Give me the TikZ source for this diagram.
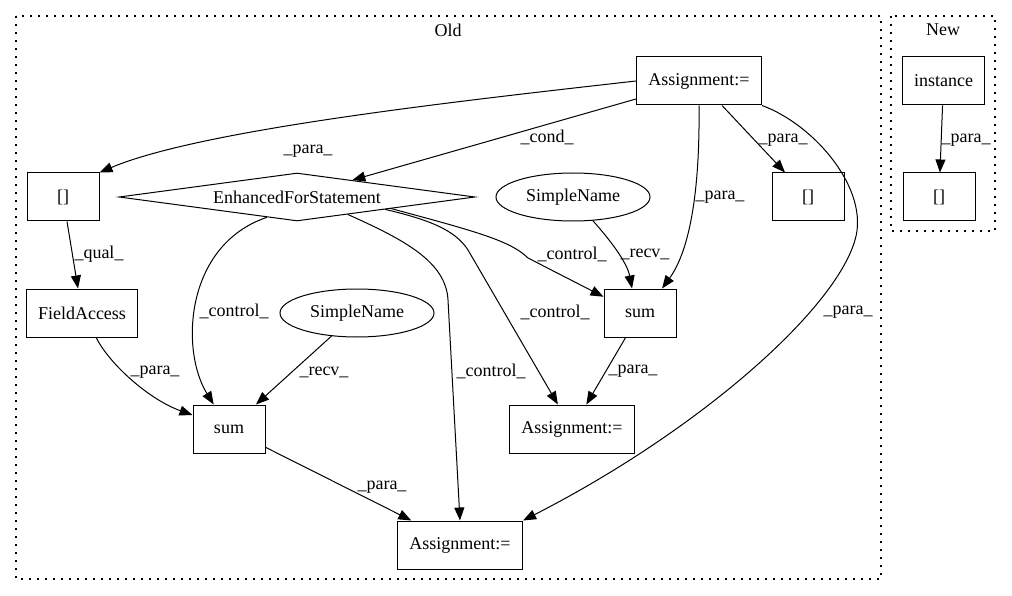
\documentclass[tikz,border=0pt]{standalone}
\usepackage{fontspec}
\setmainfont{Liberation Serif}
\usetikzlibrary{arrows.meta,shapes.geometric}

\begin{document}
\begin{tikzpicture}[x=1pt, y=-1pt, line width=1pt,
    font=\fontsize{18}{20}\selectfont,
    box/.style={draw, rectangle, minimum width=72pt, minimum height=48pt, inner xsep=12pt, inner ysep=0pt},
    oval/.style={draw, ellipse, minimum width=154pt, minimum height=48pt, inner sep=0pt},
    cond/.style={draw, diamond, aspect=7.4, minimum width=356pt, minimum height=48pt, inner sep=0pt},
    cluster/.style={line width=1.3pt, dash pattern=on 1.6pt off 6.4pt},
    edge/.style={-{Triangle[length=13pt,width=10pt]}},
    lbl/.style={inner sep=0pt}]
            \useasboundingbox (0,0) rectangle (1012,596);

            % clusters
            \draw[cluster] (16,16) rectangle (881,579);
            \node[lbl] (old) at (448,30) {Old};
            \draw[cluster] (891,16) rectangle (995,231);
            \node[lbl] (new) at (943,30) {New};

            % old nodes
            \node[box] (asgtop) at (699,81) {Assignment:=};
            \node[box] (idxleft) at (63,197) {[]};
            \node[cond] (efs) at (297,197) {EnhancedForStatement};
            \node[oval] (nameright) at (573,197) {SimpleName};
            \node[box] (idxright) at (808,197) {[]};
            \node[box] (field) at (82,313) {FieldAccess};
            \node[oval] (nameleft) at (357,313) {SimpleName};
            \node[box] (sumright) at (640,313) {sum};
            \node[box] (sumleft) at (229,429) {sum};
            \node[box] (asgmid) at (572,429) {Assignment:=};
            \node[box] (asgbot) at (460,545) {Assignment:=};

            % new nodes
            \node[box] (inst) at (943.5,81) {instance};
            \node[box] (idxnew) at (939,197) {[]};

            % edges from the top assignment
            \draw[edge] (asgtop.west) .. controls (450,102) and (200,130) .. (idxleft.north east);
            \draw[edge] (asgtop) -- (efs.17);
            \draw[edge] (asgtop) -- (idxright);
            \draw[edge] (asgtop.south) .. controls (700,190) and (690,250) .. (sumright.48);
            \draw[edge] (asgtop.south east) .. controls (815,125) and (870,190) .. (855,240)
                .. controls (835,310) and (700,430) .. (asgbot.north east);
            \node[lbl] (lparaleft) at (308,151) {\_para\_};
            \node[lbl] (lcond) at (547,137) {\_cond\_};
            \node[lbl] (lparaidx) at (783,140) {\_para\_};
            \node[lbl] (lparasum) at (720,197) {\_para\_};
            \node[lbl] (lparabot) at (848,312) {\_para\_};

            % edges from the loop
            \draw[edge] (efs.214) .. controls (185,245) and (180,350) .. (sumleft.122);
            \draw[edge] (efs.-19) .. controls (405,240) and (446,262) .. (448,300) -- (asgbot.north);
            \draw[edge] (efs.-8) .. controls (430,220) and (455,230) .. (468,250) -- (asgmid.120);
            \draw[edge] (efs.-7) .. controls (470,230) and (510,240) .. (528,258) -- (sumright.156);
            \node[lbl] (lctrlsum) at (234,311) {\_control\_};
            \node[lbl] (lctrlbot) at (491,371) {\_control\_};
            \node[lbl] (lctrlmid) at (555,312) {\_control\_};
            \node[lbl] (lctrlright) at (572,254) {\_control\_};

            % remaining old edges
            \draw[edge] (idxleft) -- (field);
            \draw[edge] (field.-60) .. controls (110,365) and (150,400) .. (sumleft.159);
            \draw[edge] (nameleft) -- (sumleft);
            \draw[edge] (nameright.-50) .. controls (610,240) and (627,262) .. (sumright.108);
            \draw[edge] (sumright) -- (asgmid);
            \draw[edge] (sumleft) -- (asgbot);
            \node[lbl] (lqual) at (99,254) {\_qual\_};
            \node[lbl] (lparafield) at (155,372) {\_para\_};
            \node[lbl] (lrecvleft) at (324,372) {\_recv\_};
            \node[lbl] (lrecvright) at (645,254) {\_recv\_};
            \node[lbl] (lparamid) at (633,371) {\_para\_};
            \node[lbl] (lparasumbot) at (382,487) {\_para\_};

            % new edge
            \draw[edge] (inst) -- (idxnew);
            \node[lbl] (lparanew) at (966,140) {\_para\_};
\end{tikzpicture}
\end{document}
